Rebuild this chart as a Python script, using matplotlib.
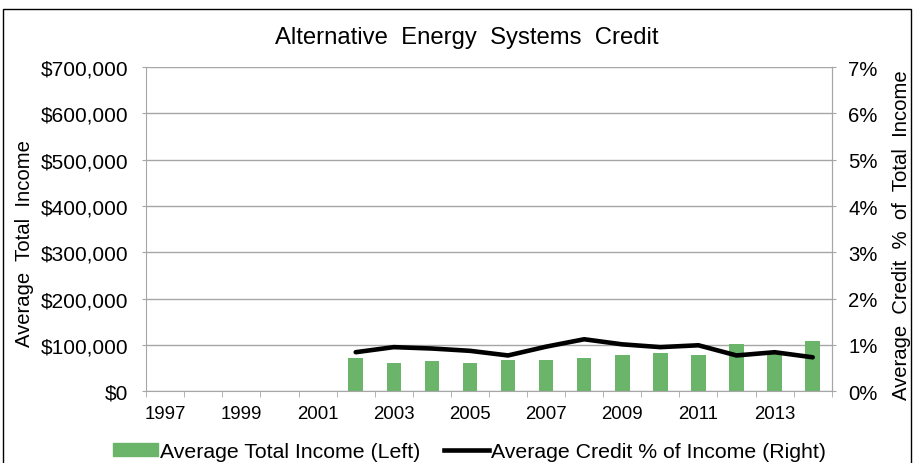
import numpy as np
import matplotlib
matplotlib.use("Agg")
import matplotlib.pyplot as plt
from matplotlib.patches import Rectangle
from matplotlib.lines import Line2D
from matplotlib.ticker import FuncFormatter

plt.rcParams["font.family"] = ["Liberation Sans", "DejaVu Sans"]

# ── Data ───────────────────────────────────────────────────────────────────
years = list(range(1997, 2015))
income = [0, 0, 0, 0, 0,
          70500, 60500, 64000, 60500, 68000, 68000, 70500,
          78000, 81500, 78000, 101500, 86000, 109000]
credit_pct = [np.nan] * 5 + [0.84, 0.95, 0.92, 0.87, 0.77, 0.96, 1.12,
                             1.01, 0.95, 0.99, 0.77, 0.84, 0.73]
year_labels = [str(y) for y in range(1997, 2015, 2)]

BAR_COLOUR = "#6BB56B"
GRID = "#A6A6A6"

fig = plt.figure(figsize=(9.14, 4.64), dpi=100)
ax = fig.add_axes([0.160, 0.155, 0.750, 0.698])
ax2 = ax.twinx()

x = np.arange(len(years))
ax.bar(x, income, width=0.38, color=BAR_COLOUR, zorder=2)
ax2.plot(x, credit_pct, color="black", linewidth=3.3, solid_joinstyle="round",
         solid_capstyle="round", zorder=3)

ax.set_xlim(-0.5, len(years) - 0.5)
ax.set_ylim(0, 700000)
ax2.set_ylim(0, 7)
ax.set_yticks(np.arange(0, 700001, 100000))
ax2.set_yticks(np.arange(0, 8, 1))
ax.yaxis.set_major_formatter(FuncFormatter(lambda v, p: f"${v:,.0f}"))
ax2.yaxis.set_major_formatter(FuncFormatter(lambda v, p: f"{v:.0f}%"))

ax.set_xticks(x[::2])
ax.set_xticklabels(year_labels)
ax.set_xticks(np.arange(-0.5, len(years), 1), minor=True)
ax.tick_params(axis="x", which="major", length=0, pad=10, labelsize=13.4)
ax.tick_params(axis="x", which="minor", length=4, color=GRID)
ax.tick_params(axis="y", length=3, color=GRID, labelsize=15, pad=10)
ax2.tick_params(axis="y", length=3, color=GRID, labelsize=14.6, pad=9)

ax.grid(axis="y", color=GRID, linewidth=1.0, zorder=0)
ax.set_axisbelow(True)
for a in (ax, ax2):
    for s in a.spines.values():
        s.set_color(GRID)
    a.spines["top"].set_visible(False)
ax2.spines["left"].set_visible(False)
ax2.spines["bottom"].set_visible(False)

ax.set_ylabel("Average  Total  Income", fontsize=14.6, labelpad=5)
ax.yaxis.label.set_y(0.46)
ax2.set_ylabel("Average  Credit  %  of  Total  Income", fontsize=14.6,
               rotation=90, labelpad=10)
ax2.yaxis.label.set_y(0.485)
fig.text(0.511, 0.918, "Alternative  Energy  Systems  Credit", ha="center",
         va="center", fontsize=17.2)

handles = [Rectangle((0, 0), 1, 1, color=BAR_COLOUR),
           Line2D([], [], color="black", linewidth=3.3)]
fig.legend(handles, ["Average Total Income (Left)",
                     "Average Credit % of Income (Right)"],
           loc="center", bbox_to_anchor=(0.514, 0.025), ncol=2, frameon=False,
           fontsize=15.3, handlelength=2.1, handleheight=0.58, handletextpad=0.12,
           columnspacing=1.1)

fig.patches.append(Rectangle((3 / 914, -0.05), 908 / 914, 1.04 - 5 / 464,
                             transform=fig.transFigure, fill=False,
                             edgecolor="black", linewidth=1.0))

plt.savefig("out.png", dpi=100)
